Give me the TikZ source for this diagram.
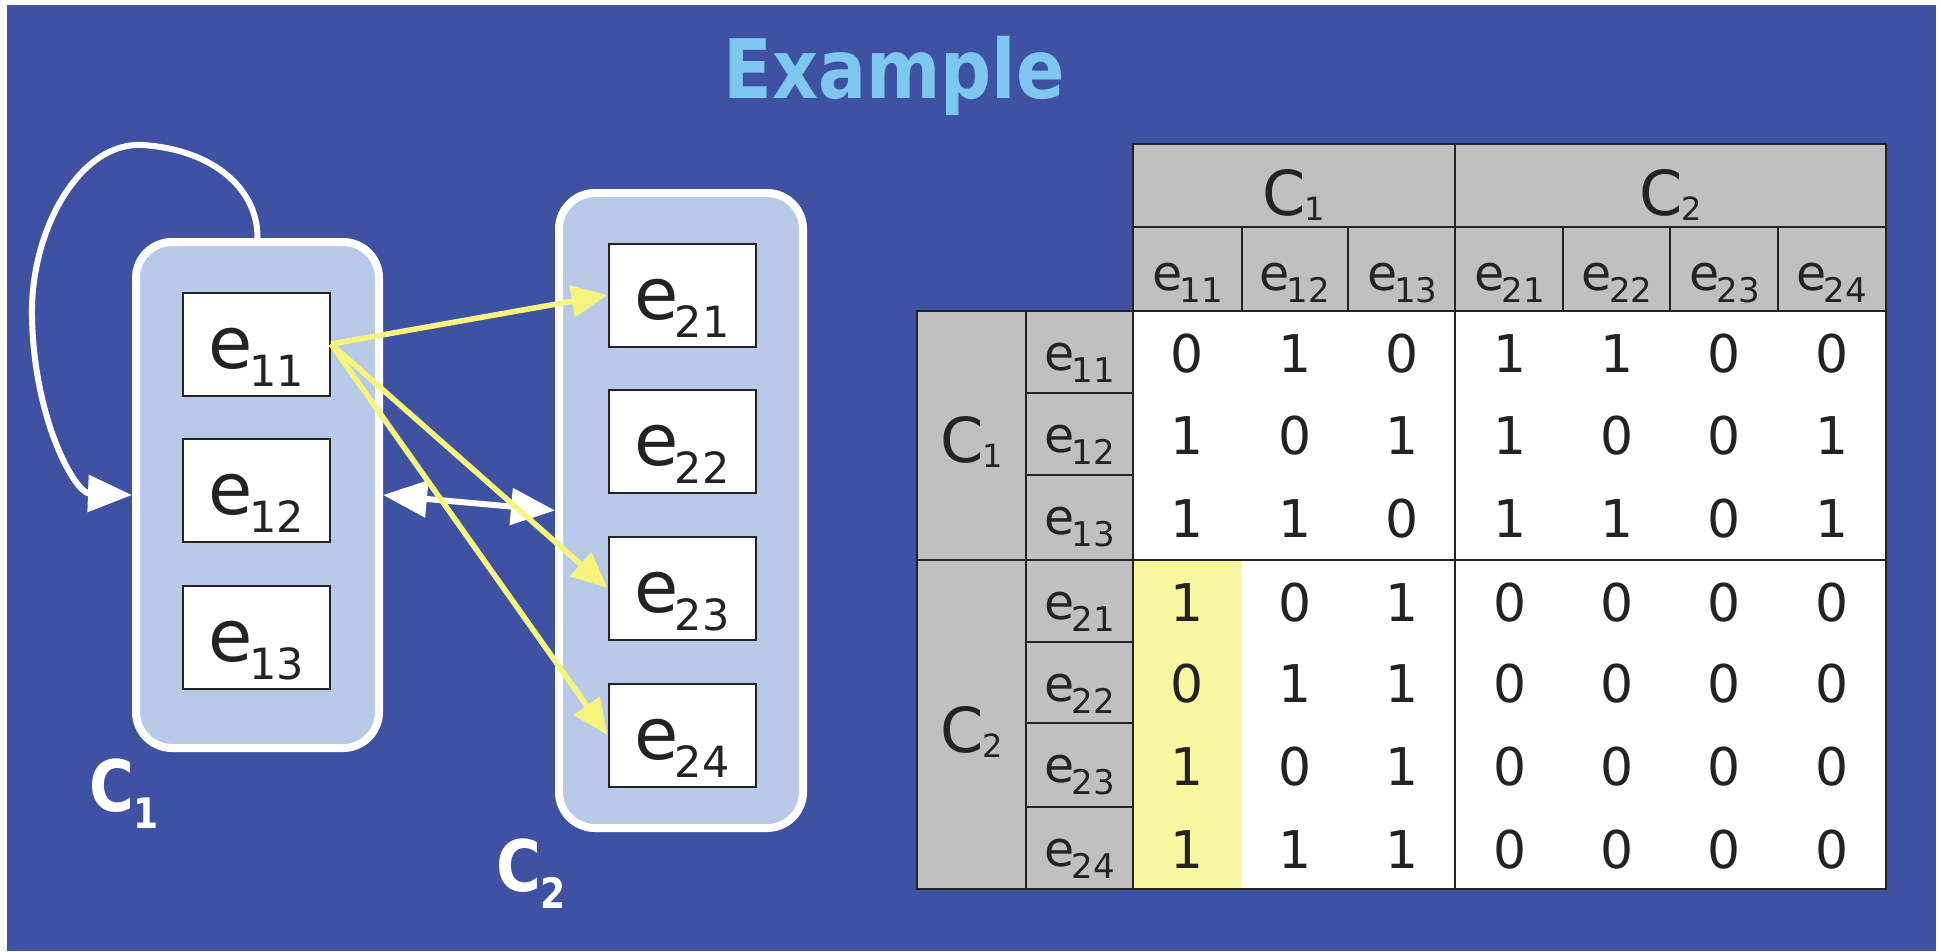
\documentclass[tikz,border=0pt]{standalone}
\usepackage{fontspec}
\setmainfont{DejaVu Sans}
\usetikzlibrary{arrows.meta}
\definecolor{bgblue}{RGB}{63,81,163}
\definecolor{titleblue}{RGB}{126,200,240}
\definecolor{clfill}{RGB}{185,201,232}
\definecolor{arrowyellow}{RGB}{245,245,125}
\definecolor{cellgray}{RGB}{192,192,192}
\definecolor{hlyellow}{RGB}{248,248,160}
\definecolor{inkdark}{RGB}{35,35,35}
\newcommand{\elemtxt}[1]{{\fontsize{72}{72}\selectfont e}\kern-4pt\raisebox{-18pt}{\fontsize{43}{43}\selectfont #1}}
\newcommand{\tabetxt}[1]{{\fontsize{49}{49}\selectfont e}\kern-3pt\raisebox{-12pt}{\fontsize{34}{34}\selectfont #1}}
\newcommand{\tabctxt}[1]{{\fontsize{62}{62}\selectfont C}\kern-1pt\raisebox{-5pt}{\fontsize{32}{32}\selectfont #1}}
\newcommand{\bigctxt}[1]{{\fontsize{71}{71}\selectfont\bfseries C}\raisebox{-17pt}{\fontsize{42}{42}\selectfont\bfseries #1}}
\begin{document}
\begin{tikzpicture}[x=1pt,y=-1pt,
  clusterbox/.style={draw=white, line width=8pt, fill=clfill, rounded corners=36pt, inner sep=0pt},
  elembox/.style={draw=inkdark, line width=2pt, fill=white, inner sep=0pt, minimum width=147pt,
    text height=76pt, text depth=27pt, text=inkdark},
  whitearrow/.style={draw=white, line width=6pt},
  whitetip/.tip={Triangle[length=44pt,width=36pt]},
  yarrow/.style={draw=arrowyellow, line width=5.5pt, -{Triangle[length=36pt,width=31pt]}},
  clabel/.style={text=white, inner sep=0pt, xscale=0.86, anchor=base west},
  tabline/.style={draw=inkdark, line width=1.8pt},
  tabtext/.style={text=inkdark, inner sep=0pt, anchor=base},
  digit/.style={text=inkdark, inner sep=0pt, anchor=base, font=\fontsize{52}{52}\selectfont}]
\useasboundingbox (0,0) rectangle (1941,951);
\fill[white] (0,0) rectangle (1941,951);
\fill[bgblue] (7,5) rectangle (1936,951);

% title
\node[anchor=base, inner sep=0pt, xscale=0.87, text=titleblue,
  font=\fontsize{82}{82}\selectfont\bfseries] (title) at (894,98) {Example};

% clusters
\node[clusterbox, minimum width=243pt, minimum height=506pt] (C1) at (257.5,495) {};
\node[clusterbox, minimum width=244pt, minimum height=635pt] (C2) at (681,510.5) {};

% elements
\node[elembox] (e11) at (256.5,344) {\elemtxt{11}};
\node[elembox] (e12) at (256.5,490) {\elemtxt{12}};
\node[elembox] (e13) at (256.5,637) {\elemtxt{13}};
\node[elembox] (e21) at (682,295) {\elemtxt{21}};
\node[elembox] (e22) at (682,441) {\elemtxt{22}};
\node[elembox] (e23) at (682,588) {\elemtxt{23}};
\node[elembox] (e24) at (682,735) {\elemtxt{24}};

% loop arrow
\draw[whitearrow, -whitetip] (C1.north) .. controls (258,190) and (215,150) .. (143,145)
  .. controls (80,141) and (30,230) .. (32,317)
  .. controls (34,420) and (75,493) .. (C1.west);

% double arrow between clusters
\draw[whitearrow, whitetip-whitetip] (C1.east) -- (C2.west);

% yellow arrows
\draw[yarrow] (e11.east) -- (e21.west);
\draw[yarrow] (e11.east) -- (e23.west);
\draw[yarrow] (e11.east) -- (e24.west);

% cluster labels
\node[clabel] (labC1) at (89,811) {\bigctxt{1}};
\node[clabel] (labC2) at (496,891) {\bigctxt{2}};

% table fills
\fill[cellgray] (1133,144) rectangle (1886,311);
\fill[cellgray] (917,311) rectangle (1133,889);
\fill[white] (1133,311) rectangle (1886,889);
\fill[hlyellow] (1133,560) rectangle (1242,889);

% table lines
\draw[tabline] (1133,144) rectangle (1886,889);
\draw[tabline] (917,311) rectangle (1133,889);
\draw[tabline] (1133,227) -- (1886,227);
\draw[tabline] (1133,311) -- (1886,311);
\draw[tabline] (917,560) -- (1886,560);
\draw[tabline] (1026,311) -- (1026,889);
\draw[tabline] (1455,144) -- (1455,889);
\foreach \x in {1242,1348,1563,1670,1778} \draw[tabline] (\x,227) -- (\x,311);
\foreach \y in {393,475,642,723,807} \draw[tabline] (1026,\y) -- (1133,\y);

% table headers
\node[tabtext] (hC1) at (1294,215) {\tabctxt{1}};
\node[tabtext] (hC2) at (1670.5,215) {\tabctxt{2}};
\foreach \lab [count=\k] in {11,12,13,21,22,23,24}
  \node[tabtext] (he\lab) at ({1187.5+107.4*(\k-1)},290) {\tabetxt{\lab}};
\node[tabtext] (rC1) at (971.5,462) {\tabctxt{1}};
\node[tabtext] (rC2) at (971.5,752) {\tabctxt{2}};
\foreach \lab/\yb in {11/370,12/452,13/534,21/619,22/701,23/782,24/866}
  \node[tabtext] (re\lab) at (1079.5,\yb) {\tabetxt{\lab}};

% matrix values
\foreach \vals [count=\r] in {{0,1,0,1,1,0,0},{1,0,1,1,0,0,1},{1,1,0,1,1,0,1},{1,0,1,0,0,0,0},{0,1,1,0,0,0,0},{1,0,1,0,0,0,0},{1,1,1,0,0,0,0}} {
  \pgfmathsetmacro{\yc}{{352,434,517.5,601,682.5,765,848}[\r-1]}
  \foreach \v [count=\c] in \vals {
    \node[digit] (v\r\c) at ({1187.5+107.4*(\c-1)},\yc+20) {\v};
  }
}
\end{tikzpicture}
\end{document}
